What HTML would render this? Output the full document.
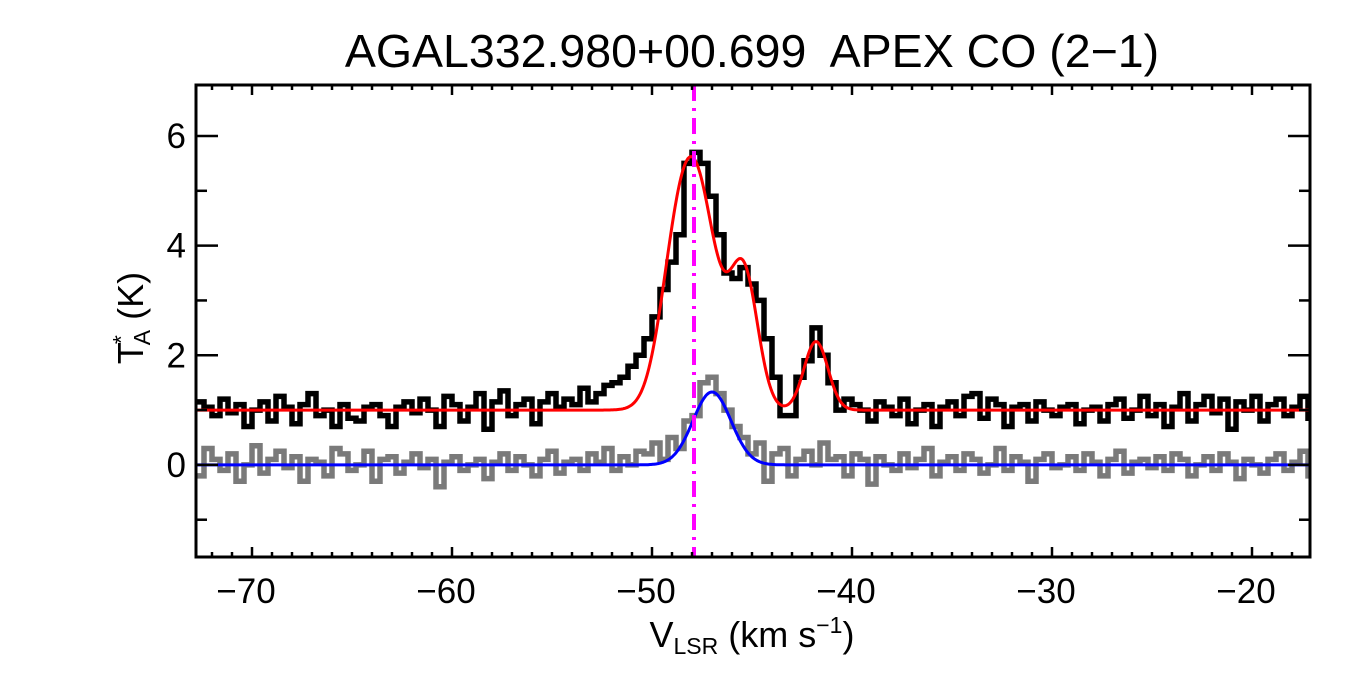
<!DOCTYPE html>
<html><head><meta charset="utf-8"><style>
body{margin:0;background:#fff;}
svg{display:block;font-family:"Liberation Sans",Arial,sans-serif;}
</style></head><body>
<svg id="chart" width="1350" height="675" viewBox="0 0 1350 675">
<text x="752" y="67" font-size="46.5" text-anchor="middle" xml:space="preserve" style="white-space:pre">AGAL332.980+00.699  APEX CO (2−1)</text>
<g id="plot"></g>
<text x="752" y="647" font-size="36" text-anchor="middle">V<tspan font-size="23" dy="7">LSR</tspan><tspan dy="-7"> (km s</tspan><tspan font-size="23" dy="-14">−1</tspan><tspan dy="14">)</tspan></text>
<text transform="translate(143,318) rotate(-90)" font-size="36" text-anchor="middle">T<tspan font-size="23" dy="-14" dx="-2">*</tspan><tspan font-size="23" dy="21" dx="-10">A</tspan><tspan dy="-7"> (K)</tspan></text>
</svg>
<script>
const xStart = -72.6;
const chanWidth = 0.4;
const offsetBlack = 1.0;
const blackValues = [0.15,0.05,-0.1,0.2,-0.05,0.1,-0.3,0.0,0.15,-0.2,0.25,0.05,-0.25,0.1,0.3,-0.1,0.0,-0.3,
0.1,-0.15,-0.2,0.05,0.1,-0.1,-0.3,0.05,0.15,-0.05,0.2,0.0,-0.3,0.25,0.1,-0.2,0.05,0.3,-0.35,0.15,
0.35,-0.1,0.1,0.2,-0.25,0.15,0.3,0.05,0.2,0.1,0.4,0.15,0.3,0.45,
0.5,0.6,0.8,1.0,1.3,1.7,2.2,2.7,3.2,4.5,4.7,4.5,3.9,3.2,2.5,2.4,2.6,2.3,2.0,1.3,0.6,-0.1,-0.1,0.6,0.9,1.5,1.0,0.5,0.0,0.2,
0.1,0.0,-0.2,0.15,0.05,-0.1,0.2,-0.25,0.0,0.1,-0.3,0.05,0.15,-0.1,0.25,0.3,-0.15,0.2,0.1,-0.3,0.05,0.1,-0.2,0.15,0.0,-0.1,0.05,0.1,-0.25,0.0,0.05,-0.2,0.1,0.2,-0.15,0.0,0.25,-0.1,0.1,-0.3,0.05,0.3,-0.2,0.1,0.25,-0.05,0.2,-0.35,0.15,0.0,0.25,-0.2,0.1,0.2,-0.1,0.05,0.25,-0.15,0.1,-0.2];
const grayValues = [-0.2,0.3,0.1,-0.1,0.2,-0.3,0.0,0.35,-0.15,0.1,0.25,-0.05,0.15,-0.3,0.1,0.05,-0.2,0.3,0.2,-0.1,
0.0,0.25,-0.3,0.1,0.15,-0.15,0.05,0.2,-0.05,0.1,-0.4,0.05,0.15,-0.1,0.0,0.1,-0.25,0.05,0.2,-0.1,
0.15,0.0,-0.2,0.1,0.25,-0.15,0.05,0.1,-0.1,0.2,0.05,0.3,-0.1,0.15,0.0,0.25,0.2,0.4,0.1,0.5,0.3,0.8,0.9,1.5,1.6,1.3,1.0,0.7,0.5,0.2,0.4,-0.3,0.2,
0.3,-0.2,0.1,0.25,0.0,0.4,0.1,0.15,-0.2,0.2,0.1,-0.35,0.15,0.0,-0.1,0.2,-0.05,0.1,0.3,-0.2,0.05,0.15,-0.1,0.2,0.1,-0.15,0.0,0.3,-0.1,0.15,0.05,-0.3,0.1,0.2,-0.05,0.0,0.15,-0.1,0.2,0.05,-0.2,0.1,0.25,-0.15,0.05,0.1,-0.05,0.15,-0.1,0.2,0.1,-0.2,0.0,0.15,-0.1,0.2,0.05,-0.25,0.1,0.0,-0.15,0.1,
0.2,-0.1,0.05,0.25,-0.2,0.1,-0.05,0.15,-0.3,0.1];
const redCenters = [-47.85,-45.4,-41.8,-49.0];
const redAmps = [4.2,2.4,1.25,1.0];
const redSigmas = [1.07,0.7,0.6,0.8];
const redBase = 1.0;
const blueCenters = [-47.0];
const blueAmps = [1.33];
const blueSigmas = [0.95];
const markerVelocity = -47.9;
const xTicks = [-70,-60,-50,-40,-30,-20];
const yTicks = [0,2,4,6];

const X0=196,X1=1310,Y0=85,Y1=557;
const xmin=-72.8,xmax=-17.1,ymin=-1.68,ymax=6.93;
const sx=v=>X0+(v-xmin)/(xmax-xmin)*(X1-X0);
const sy=v=>Y1-(v-ymin)/(ymax-ymin)*(Y1-Y0);
const NS='http://www.w3.org/2000/svg';
const plot=document.getElementById('plot');
function mk(tag,attrs){const e=document.createElementNS(NS,tag);for(const k in attrs)e.setAttribute(k,attrs[k]);return e;}
const defs=mk('defs',{});const cp=mk('clipPath',{id:'clip'});cp.appendChild(mk('rect',{x:X0,y:Y0,width:X1-X0,height:Y1-Y0}));defs.appendChild(cp);plot.appendChild(defs);
const g=mk('g',{'clip-path':'url(#clip)'});plot.appendChild(g);

function stepPath(vals,off){let d='';vals.forEach((v,i)=>{const c=xStart+chanWidth*i;const xa=sx(c-chanWidth/2),xb=sx(c+chanWidth/2),y=sy(v+off);d+=(i?'L':'M')+xa.toFixed(1)+','+y.toFixed(1)+'L'+xb.toFixed(1)+','+y.toFixed(1);});return d;}
function gaussPath(cs,as,ss,base){let d='';for(let v=xmin;v<=xmax;v+=0.05){let t=base;for(let k=0;k<cs.length;k++)t+=as[k]*Math.exp(-((v-cs[k])**2)/(2*ss[k]*ss[k]));d+=(d?'L':'M')+sx(v).toFixed(1)+','+sy(t).toFixed(1);}return d;}

const gray=mk('path',{d:stepPath(grayValues,0),fill:'none',stroke:'#7a7a7a','stroke-width':5.5});


g.appendChild(gray);
const black=mk('path',{d:stepPath(blackValues,offsetBlack),fill:'none',stroke:'#000','stroke-width':5.5});


g.appendChild(black);
const red=mk('path',{d:gaussPath(redCenters,redAmps,redSigmas,redBase),fill:'none',stroke:'#ff0000','stroke-width':3});


g.appendChild(red);
const blue=mk('path',{d:gaussPath(blueCenters,blueAmps,blueSigmas,0),fill:'none',stroke:'#0000ff','stroke-width':3});


g.appendChild(blue);
const mline=mk('line',{x1:sx(markerVelocity),x2:sx(markerVelocity),y1:Y0,y2:Y1,stroke:'#ff00ff','stroke-width':4,'stroke-dasharray':'16,7,3,7'});


g.appendChild(mline);

const frame=mk('rect',{x:X0,y:Y0,width:X1-X0,height:Y1-Y0,fill:'none',stroke:'#000','stroke-width':3});


plot.appendChild(frame);
for(let v=Math.ceil(xmin);v<=xmax;v++){const maj=v%10===0;const L=maj?10:5;const x=sx(v);
plot.appendChild(mk('line',{x1:x,x2:x,y1:Y1,y2:Y1-L,stroke:'#000','stroke-width':2.5}));
plot.appendChild(mk('line',{x1:x,x2:x,y1:Y0,y2:Y0+L,stroke:'#000','stroke-width':2.5}));}
for(let v=Math.ceil(ymin);v<=ymax;v++){const maj=v%2===0;const L=maj?22:11;const y=sy(v);
plot.appendChild(mk('line',{x1:X0,x2:X0+L,y1:y,y2:y,stroke:'#000','stroke-width':2.5}));
plot.appendChild(mk('line',{x1:X1,x2:X1-L,y1:y,y2:y,stroke:'#000','stroke-width':2.5}));}
xTicks.forEach(v=>{const t=mk('text',{x:sx(v)-6,y:603,'font-size':35,'text-anchor':'middle'});t.textContent='−'+Math.abs(v);


plot.appendChild(t);});
yTicks.forEach(v=>{const t=mk('text',{x:186,y:sy(v)+12,'font-size':35,'text-anchor':'end'});t.textContent=String(v);


plot.appendChild(t);});
</script>
</body></html>
